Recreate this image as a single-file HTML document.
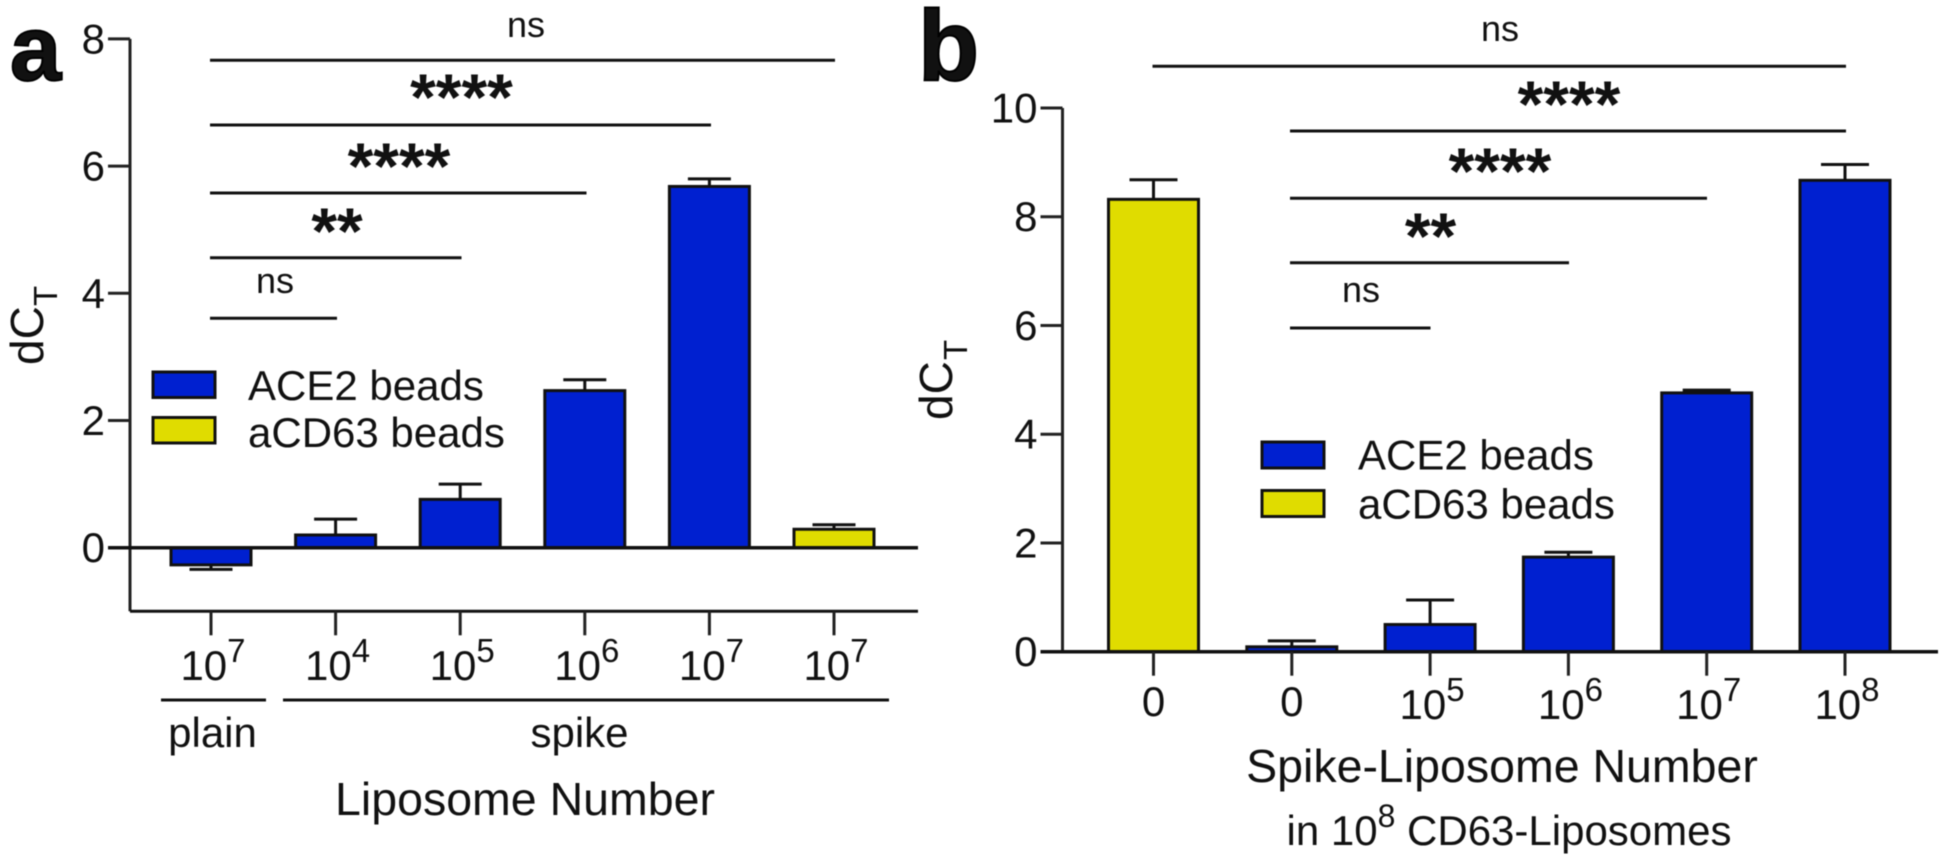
<!DOCTYPE html>
<html lang="en">
<head>
<meta charset="utf-8">
<title>dCT bar charts for liposome capture</title>
<style>
  html, body { margin: 0; padding: 0; background: #fff; }
  body { width: 1943px; height: 859px; overflow: hidden; }
  svg { display: block; filter: blur(0.6px); }
  text { font-family: "Liberation Sans", Arial, sans-serif; fill: #111; }
  .bracket { stroke: #111; stroke-width: 3; }
  .stars { font-size: 66px; font-weight: 700; text-anchor: middle; }
  .ns { font-size: 36px; text-anchor: middle; }
  .legend-text { font-size: 42px; }
  .axis-title { font-size: 46.5px; text-anchor: middle; }
</style>
</head>
<body>
<svg id="figure" xmlns="http://www.w3.org/2000/svg" width="1943" height="859" viewBox="0 0 1943 859">
  <rect x="0" y="0" width="1943" height="859" fill="#ffffff"/>

  <g id="panel-a"></g>
  <g id="panel-b"></g>

  <!-- Panel a annotations -->
  <text x="10" y="80" font-size="92" font-weight="700" stroke="#000" stroke-width="2">a</text>
  <g>
    <text transform="translate(43,365) rotate(-90)" font-size="46">dC</text>
    <text transform="translate(57,306) rotate(-90)" font-size="33">T</text>
  </g>
  <line class="bracket" x1="210" y1="60.3" x2="835" y2="60.3"/>
  <line class="bracket" x1="210" y1="125" x2="711" y2="125"/>
  <line class="bracket" x1="210" y1="193" x2="586.5" y2="193"/>
  <line class="bracket" x1="210" y1="257.7" x2="461.5" y2="257.7"/>
  <line class="bracket" x1="210" y1="318.3" x2="337" y2="318.3"/>
  <text class="ns" x="526" y="37">ns</text>
  <text class="stars" x="461.5" y="120">****</text>
  <text class="stars" x="399" y="189">****</text>
  <text class="stars" x="337" y="254">**</text>
  <text class="ns" x="275" y="293">ns</text>
  <g>
    <rect x="153" y="372" width="62" height="25.5" fill="#0020d0" stroke="#111" stroke-width="3"/>
    <rect x="153" y="417.5" width="62" height="25.5" fill="#e0dc00" stroke="#111" stroke-width="3"/>
    <text class="legend-text" x="248" y="400">ACE2 beads</text>
    <text class="legend-text" x="248" y="447">aCD63 beads</text>
  </g>
  <line class="bracket" x1="161" y1="700" x2="266" y2="700" stroke-width="4"/>
  <line class="bracket" x1="283" y1="700" x2="889" y2="700" stroke-width="4"/>
  <text x="212.5" y="747" font-size="42" text-anchor="middle">plain</text>
  <text x="579.5" y="747" font-size="42" text-anchor="middle">spike</text>
  <text class="axis-title" x="525" y="815">Liposome Number</text>

  <!-- Panel b annotations -->
  <text x="918" y="80" font-size="100" font-weight="700" stroke="#000" stroke-width="2">b</text>
  <g>
    <text transform="translate(952,420) rotate(-90)" font-size="46">dC</text>
    <text transform="translate(967,360) rotate(-90)" font-size="33">T</text>
  </g>
  <line class="bracket" x1="1152.5" y1="66.3" x2="1846" y2="66.3"/>
  <line class="bracket" x1="1290" y1="131" x2="1846" y2="131"/>
  <line class="bracket" x1="1290" y1="198.3" x2="1707" y2="198.3"/>
  <line class="bracket" x1="1290" y1="262.7" x2="1569" y2="262.7"/>
  <line class="bracket" x1="1290" y1="328" x2="1430.5" y2="328"/>
  <text class="ns" x="1500" y="41">ns</text>
  <text class="stars" x="1569" y="127">****</text>
  <text class="stars" x="1500" y="194">****</text>
  <text class="stars" x="1430.5" y="259">**</text>
  <text class="ns" x="1361" y="302">ns</text>
  <g>
    <rect x="1262" y="442" width="62" height="26" fill="#0020d0" stroke="#111" stroke-width="3"/>
    <rect x="1262" y="490.5" width="62" height="26" fill="#e0dc00" stroke="#111" stroke-width="3"/>
    <text class="legend-text" x="1358" y="469.5">ACE2 beads</text>
    <text class="legend-text" x="1358" y="518.5">aCD63 beads</text>
  </g>
  <text class="axis-title" x="1502" y="782">Spike-Liposome Number</text>
  <text x="1509" y="845" font-size="42" text-anchor="middle">in 10<tspan font-size="32" dy="-18">8</tspan><tspan dy="18"> CD63-Liposomes</tspan></text>
</svg>

<script>
// Panel a data
const aExponents = [7, 4, 5, 6, 7, 7];
const aValues = [-0.27, 0.2, 0.76, 2.47, 5.68, 0.29];
const aErrors = [0.07, 0.25, 0.24, 0.17, 0.12, 0.07];
const aSeries = ['ace2', 'ace2', 'ace2', 'ace2', 'ace2', 'acd63'];
const aTicks = [0, 2, 4, 6, 8];

// Panel b data
const bExponents = [0, 0, 5, 6, 7, 8];
const bValues = [8.32, 0.09, 0.5, 1.74, 4.76, 8.67];
const bErrors = [0.36, 0.11, 0.45, 0.09, 0.05, 0.29];
const bSeries = ['acd63', 'ace2', 'ace2', 'ace2', 'ace2', 'ace2'];
const bTicks = [0, 2, 4, 6, 8, 10];

const SVG_NS = 'http://www.w3.org/2000/svg';
const seriesFill = { ace2: '#0020d0', acd63: '#e0dc00' };

function make(parent, tag, attrs) {
  const el = document.createElementNS(SVG_NS, tag);
  for (const key in attrs) {
    el.setAttribute(key, attrs[key]);
  }
  parent.appendChild(el);
  return el;
}

function drawPanel(prefix, parent, cfg) {
  const yPos = v => cfg.y0 - v * cfg.unit;
  const xPos = i => cfg.x0 + i * cfg.step;
  const ink = '#111';

  cfg.values.forEach((value, i) => {
    const top = yPos(value);
    const base = yPos(0);
    const end = yPos(value + (value < 0 ? -1 : 1) * cfg.errors[i]);
    const cx = xPos(i);

    const stem = make(parent, 'line', { x1: cx, x2: cx, y1: top, y2: end, stroke: ink, 'stroke-width': 3 });
    
    

    const cap = make(parent, 'line', { x1: cx - cfg.capW / 2, x2: cx + cfg.capW / 2, y1: end, y2: end, stroke: ink, 'stroke-width': 3 });
    
    

    const bar = make(parent, 'rect', {
      x: cx - cfg.barW / 2,
      y: Math.min(top, base),
      width: cfg.barW,
      height: Math.abs(base - top),
      fill: seriesFill[cfg.series[i]],
      stroke: ink,
      'stroke-width': 3
    });
    
    
  });

  const yAxis = make(parent, 'line', { x1: cfg.axisX, x2: cfg.axisX, y1: yPos(cfg.yTop), y2: yPos(cfg.yBottom), stroke: '#222', 'stroke-width': 3 });
  
  

  cfg.ticks.forEach(t => {
    const y = yPos(t);
    const tick = make(parent, 'line', { x1: cfg.axisX - 22, x2: cfg.axisX, y1: y, y2: y, stroke: '#222', 'stroke-width': 3 });
    
    

    const label = make(parent, 'text', { x: cfg.axisX - 25, y: y + 14.5, 'font-size': 42, 'text-anchor': 'end' });
    
    
    label.textContent = String(t);
  });

  const baseline = make(parent, 'line', { x1: cfg.axisX - 22, x2: cfg.axisEnd, y1: yPos(0), y2: yPos(0), stroke: ink, 'stroke-width': 3.5 });
  
  

  if (cfg.yBottom !== 0) {
    const xAxis = make(parent, 'line', { x1: cfg.axisX, x2: cfg.axisEnd, y1: yPos(cfg.yBottom), y2: yPos(cfg.yBottom), stroke: ink, 'stroke-width': 3 });
    
    
  }

  cfg.exponents.forEach((exp, i) => {
    const cx = xPos(i);
    const start = yPos(cfg.yBottom);
    const tick = make(parent, 'line', { x1: cx, x2: cx, y1: start, y2: start + cfg.tickLen, stroke: '#222', 'stroke-width': 3 });
    
    

    const label = make(parent, 'text', { x: exp === 0 ? cx : cx + 2, y: exp === 0 ? cfg.labelY - 3 : cfg.labelY, 'font-size': 42, 'text-anchor': 'middle' });
    
    
    if (exp === 0) {
      label.textContent = '0';
    } else {
      label.appendChild(document.createTextNode('10'));
      const sup = make(label, 'tspan', { 'font-size': 33, dy: -18 });
      sup.textContent = String(exp);
    }
  });
}

drawPanel('a', document.getElementById('panel-a'), {
  values: aValues, errors: aErrors, series: aSeries, exponents: aExponents, ticks: aTicks,
  y0: 547.7, unit: 63.6, x0: 211, step: 124.6, barW: 80, capW: 43,
  axisX: 130, axisEnd: 918, yTop: 8, yBottom: -1, tickLen: 24, labelY: 680
});

drawPanel('b', document.getElementById('panel-b'), {
  values: bValues, errors: bErrors, series: bSeries, exponents: bExponents, ticks: bTicks,
  y0: 651.7, unit: 54.37, x0: 1153.5, step: 138.3, barW: 90, capW: 48,
  axisX: 1062.5, axisEnd: 1938, yTop: 10, yBottom: 0, tickLen: 24, labelY: 719
});
</script>
</body>
</html>
